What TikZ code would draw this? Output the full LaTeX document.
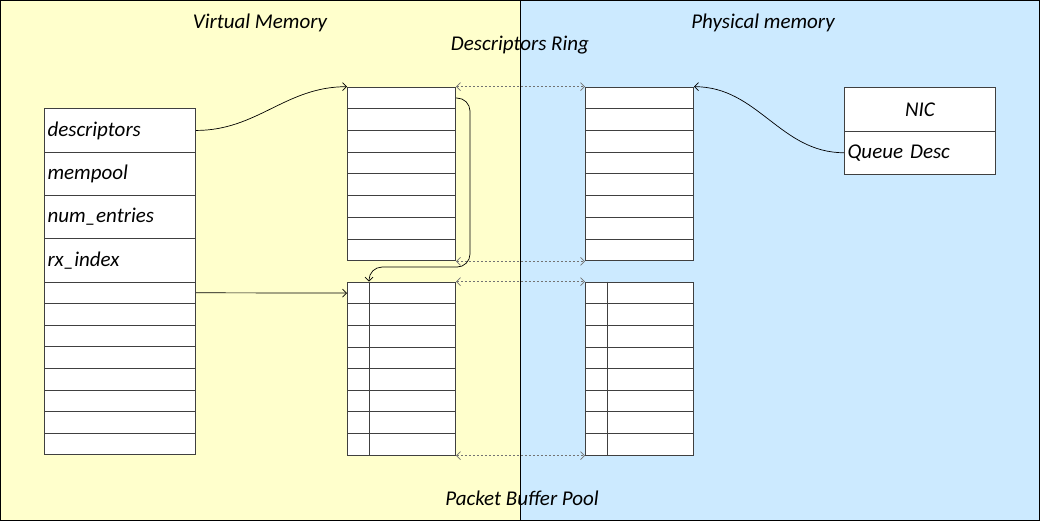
\documentclass[tikz,border=0pt]{standalone}
\usepackage{fontspec}
\setmainfont{Carlito}
\usetikzlibrary{arrows.meta}
\definecolor{virtfill}{RGB}{255,255,204}
\definecolor{physfill}{RGB}{204,234,255}
\tikzset{
  field/.style={draw=black!75, fill=white, line width=1pt, anchor=north west,
    minimum width=151pt, minimum height=43.3pt, inner sep=3pt, text width=145pt, align=left},
  slot/.style={field, minimum height=21.6pt},
  cell/.style={draw=black!75, fill=white, line width=1pt, anchor=north west,
    minimum width=108pt, minimum height=21.7pt, inner sep=0pt},
  link/.style={-{Straight Barb[length=4pt,width=8pt]}, line width=0.7pt},
  mirror/.style={{Straight Barb[length=4pt,width=8pt]}-{Straight Barb[length=4pt,width=8pt]},
    black!55, line width=0.7pt, dash pattern=on 2pt off 2pt},
}
\begin{document}
\begin{tikzpicture}[x=1pt, y=-1pt, font=\fontsize{21}{25}\selectfont\itshape]
  \useasboundingbox (0,0) rectangle (1040,521);
  \fill[virtfill] (0,0) rectangle (520,521);
  \fill[physfill] (520,0) rectangle (1040,521);
  \draw[line width=1pt] (0.5,0.5) rectangle (1039.5,520.5);
  \draw[line width=1pt] (520,0) -- (520,521);

  \node (virt) at (260,23) {Virtual Memory};
  \node (phys) at (763,23) {Physical memory};
  \node (ring) at (520,45) {Descriptors Ring};
  \node (pool) at (522,498) {Packet Buffer Pool};

  \node[field] (desc) at (44,108.3) {descriptors};
  \node[field] (mempool) at (44,151.6) {mempool};
  \node[field] (entries) at (44,194.9) {num\_entries};
  \node[field] (rxidx) at (44,238.2) {rx\_index};
  \foreach \i in {0,...,7}
    \node[slot] (vs\i) at (44,281.5+\i*21.6) {};

  \foreach \i in {0,...,7} {
    \node[cell] (vr\i) at (347,86.7+\i*21.7) {};
    \node[cell] (pr\i) at (585,86.7+\i*21.7) {};
    \node[cell] (vp\i) at (347,281.7+\i*21.6) {};
    \node[cell] (pp\i) at (585,281.7+\i*21.6) {};
  }
  \draw[black!75, line width=1pt] ([xshift=22pt]vp0.north west) -- ([xshift=22pt]vp7.south west);
  \draw[black!75, line width=1pt] ([xshift=22pt]pp0.north west) -- ([xshift=22pt]pp7.south west);

  \node[field, align=center] (nic) at (844,87.3) {NIC};
  \node[field] (queue) at (844,130.6) {Queue Desc};

  \coordinate (split) at ([xshift=22pt]vp0.north west);
  \draw[link] (desc.east) to[out=0, in=180] (vr0.north west);
  \draw[link] (vs0.east) -- (vp0.west);
  \draw[link] (queue.west) to[out=180, in=0] (pr0.north east);
  \draw[link, rounded corners=13pt] (vr0.east) -- ++(14,0) -- ++(0,169) -| (split);

  \draw[mirror] (vr0.north east) -- (pr0.north west);
  \draw[mirror] (vr7.south east) -- (pr7.south west);
  \draw[mirror] (vp0.north east) -- (pp0.north west);
  \draw[mirror] (vp7.south east) -- (pp7.south west);
\end{tikzpicture}
\end{document}
